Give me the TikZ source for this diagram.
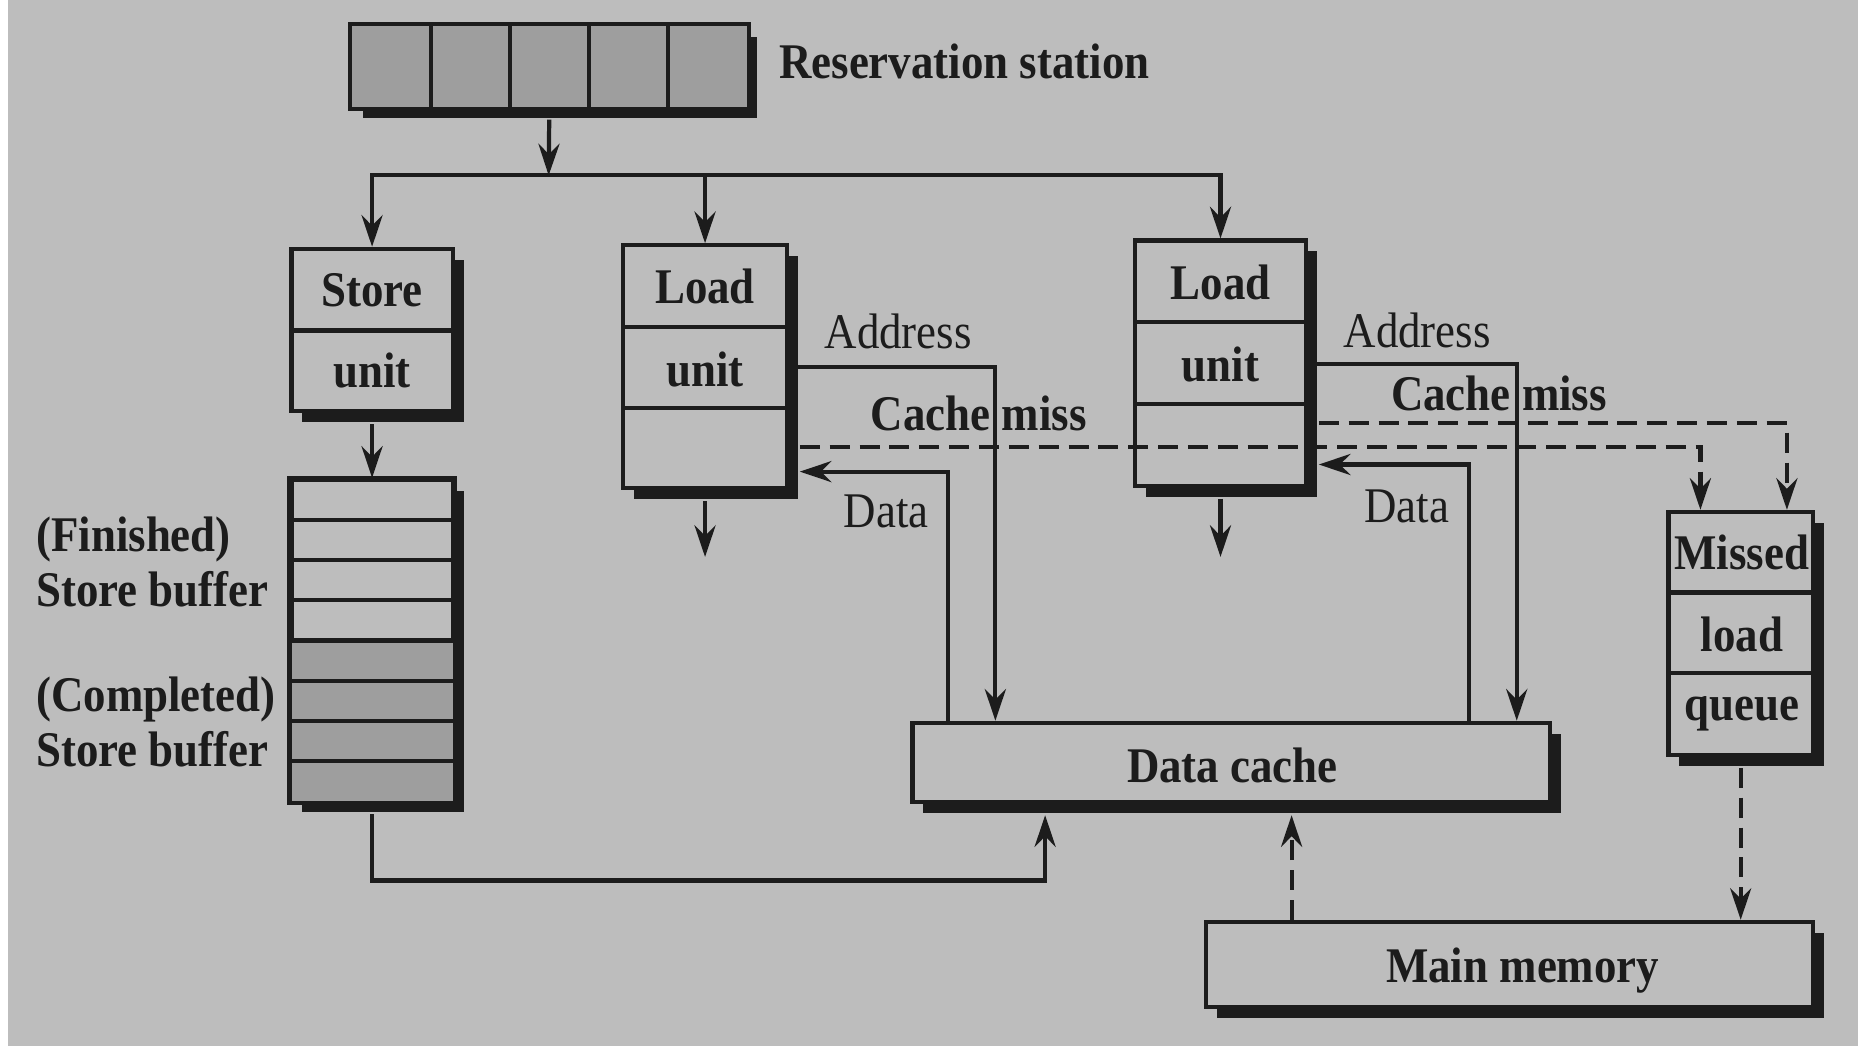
\documentclass[tikz,border=0pt]{standalone}
\usepackage{fontspec}
\setmainfont{Liberation Serif}[FakeStretch=0.9]
\usetikzlibrary{arrows.meta,shadows,fit,calc}
\definecolor{paper}{RGB}{189,189,189}
\definecolor{stip}{RGB}{158,158,158}
\definecolor{ink}{RGB}{28,28,28}
% a framed block with a solid drop shadow, given by two corners
\newcommand\shadowblock[5]{\node[box,fit={(#2,#3) (#4,#5)}] (#1) {};}
\begin{document}
\begin{tikzpicture}[x=0.01185cm,y=-0.01185cm,
  every node/.style={text=ink, inner sep=0pt},
  bold/.style={font=\fontsize{14.2}{16}\selectfont\bfseries},
  plain/.style={font=\fontsize{14.2}{16}\selectfont},
  box/.style={draw=ink, line width=1.2pt, fill=paper, inner sep=0pt,
     drop shadow={shadow xshift=3.1pt, shadow yshift=-3.1pt, fill=ink, opacity=1}},
  wire/.style={draw=ink, line width=1.2pt},
  arr/.style={wire, -{Stealth[length=9pt,width=6pt,inset=3pt]}},
  dsh/.style={arr, dash pattern=on 5.7pt off 2.8pt},
  sep/.style={draw=ink, line width=1.2pt}]

% page
\fill[white] (0,0) rectangle (1568,887);
\fill[paper] (7,0) rectangle (1568,883);
\useasboundingbox (0,0) rectangle (1568,887);

% reservation station
\shadowblock{rs}{297}{22}{630}{90}
\fill[stip] (rs.north west) rectangle (rs.south east);
\foreach \x in {363.6,430.2,496.8,563.4} \draw[sep] (\x,22) -- (\x,90);
\draw[sep] (rs.north west) rectangle (rs.south east);
\node[bold, anchor=west] (rslabel) at (657,52) {Reservation station};

% store unit
\shadowblock{su}{246}{210}{382}{347}
\draw[sep] (246,279) -- (382,279);
\node[bold] (sut) at (314,245) {Store};
\node[bold] (sub) at (314,313) {unit};

% store buffer
\shadowblock{sb}{246}{405}{382}{676}
\fill[stip] (246,540.5) rectangle (382,676);
\foreach \y in {438.9,472.8,506.6,540.5,574.4,608.3,642.1} \draw[sep] (246,\y) -- (382,\y);
\draw[sep] (sb.north west) rectangle (sb.south east);
\node[bold, anchor=west] (fin) at (30,455) {(Finished)};
\node[bold, anchor=west] (fin2) at (30,497) {Store buffer};
\node[bold, anchor=west] (com) at (30,590) {(Completed)};
\node[bold, anchor=west] (com2) at (30,632) {Store buffer};

% load units
\shadowblock{lu1}{526}{207}{664}{412}
\draw[sep] (526,276) -- (664,276);
\draw[sep] (526,344) -- (664,344);
\node[bold] (lu1t) at (595,242) {Load};
\node[bold] (lu1b) at (595,312) {unit};

\shadowblock{lu2}{958}{203}{1102}{410}
\draw[sep] (958,272) -- (1102,272);
\draw[sep] (958,341) -- (1102,341);
\node[bold] (lu2t) at (1030,238) {Load};
\node[bold] (lu2b) at (1030,308) {unit};

% data cache, missed load queue, main memory
\shadowblock{dc}{770}{610}{1308}{677}
\node[bold] (dct) at (1040,646) {Data cache};

\shadowblock{mq}{1408}{432}{1530}{637}
\draw[sep] (1408,500) -- (1530,500);
\draw[sep] (1408,568) -- (1530,568);
\node[bold] (mq1) at (1470,466) {Missed};
\node[bold] (mq2) at (1470,535) {load};
\node[bold] (mq3) at (1470,602) {queue};

\shadowblock{mm}{1018}{778}{1530}{850}
\node[bold] (mmt) at (1285,819) {Main memory};

% issue bus
\coordinate (bus) at (463,148);
\draw[arr] ([yshift=-3.1pt]rs.south) -- (bus);
\draw[arr] (bus) -| (su.north);
\draw[arr] (bus) -| (lu1.north);
\draw[arr] (bus) -| (lu2.north);

% store path
\draw[arr] ([yshift=-3.1pt]su.south) -- (sb.north);
\coordinate (sbturn) at (882,743);
\draw[arr] ([yshift=-3.1pt]sb.south) |- (sbturn) -- ([yshift=-3.1pt]dc.south -| sbturn);

% load unit outputs
\coordinate (out1) at (595,470);
\coordinate (out2) at (1030,470);
\draw[arr] ([yshift=-3.1pt]lu1.south) -- (out1);
\draw[arr] ([yshift=-3.1pt]lu2.south) -- (out2);

% first load unit: address and data
\coordinate (a1) at (840,310);
\draw[arr] (a1 -| lu1.east) -- (a1) -- (a1 |- dc.north);
\coordinate (d1) at (800,398);
\draw[arr] (d1 |- dc.north) -- (d1) -- ([xshift=3.1pt]d1 -| lu1.east);
\node[plain] (addr1) at (758,280) {Address};
\node[bold] (miss1) at (826,349) {Cache miss};
\node[plain] (data1) at (748,432) {Data};

% second load unit: address and data
\coordinate (a2) at (1280,307);
\draw[arr] (a2 -| lu2.east) -- (a2) -- (a2 |- dc.north);
\coordinate (d2) at (1240,392);
\draw[arr] (d2 |- dc.north) -- (d2) -- ([xshift=3.1pt]d2 -| lu2.east);
\node[plain] (addr2) at (1196,279) {Address};
\node[bold] (miss2) at (1265,332) {Cache miss};
\node[plain] (data2) at (1187,427) {Data};

% cache misses to the missed load queue
\coordinate (m1) at (1435,377);
\draw[dsh] ([xshift=3.1pt]m1 -| lu1.east) -- (m1) -- (m1 |- mq.north);
\coordinate (m2) at (1508,357);
\draw[dsh] ([xshift=3.1pt]m2 -| lu2.east) -- (m2) -- (m2 |- mq.north);

% memory traffic
\draw[dsh] ([yshift=-3.1pt]mq.south) -- (mq.south |- mm.north);
\coordinate (fill) at (1090,0);
\draw[dsh] (fill |- mm.north) -- ([yshift=-3.1pt]dc.south -| fill);
\end{tikzpicture}
\end{document}
